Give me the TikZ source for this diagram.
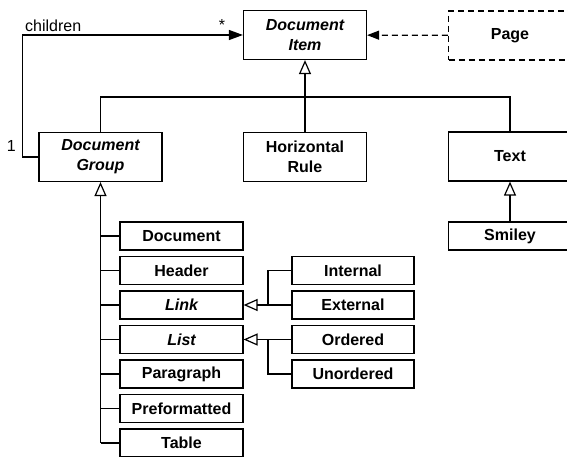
\documentclass[tikz,border=0pt]{standalone}
\usepackage{fontspec}
\setmainfont{Liberation Sans}
\usepackage{tikz}
\usetikzlibrary{arrows.meta}

\tikzset{
	cls/.style = {draw, line width = 1.2pt, minimum width = 123pt, minimum height = 49pt, inner sep = 0pt, align = center, font = \fontsize{16}{20}\selectfont\bfseries},
	leaf/.style = {cls, minimum height = 28pt},
	gen/.style = {line width = 1.2pt, -{Triangle[open, length = 14pt, width = 12pt]}},
	assoc/.style = {line width = 1.2pt, -{Triangle[length = 14pt, width = 10pt]}},
	dep/.style = {line width = 1.2pt, dashed, dash pattern = on 6pt off 4pt, -{Triangle[length = 12pt, width = 9pt]}}
}

\begin{document}
\begin{tikzpicture}[x = 1pt, y = -1pt]
		\useasboundingbox (0,0) rectangle (567,457);
		\clip (0,0) rectangle (567,457);
		\node[cls] (item) at (305,35) {\itshape Document\\\itshape Item};
		\node[cls, dashed, dash pattern = on 6pt off 4pt] (page) at (510,35.5) {Page};
		\node[cls] (group) at (100.5,157) {\itshape Document\\\itshape Group};
		\node[cls] (rule) at (305,157) {Horizontal\\Rule};
		\node[cls] (text) at (510,156.5) {Text};
		\node[leaf] (smiley) at (510,236) {Smiley};
		\foreach \n/\t/\y in {doc/Document/236, header/Header/270.5, link/\itshape Link/305, list/\itshape List/339.5, para/Paragraph/374, pre/Preformatted/408.5, table/Table/443}
			\node[leaf] (\n) at (181.5,\y) {\t};
		\foreach \n/\t/\y in {internal/Internal/270.5, external/External/305, ordered/Ordered/339.5, unordered/Unordered/374}
			\node[leaf, minimum width = 122pt] (\n) at (353,\y) {\t};
		\coordinate (bus) at (305,97);
		\coordinate (lj) at (268,305);
		\coordinate (oj) at (268,339.5);
		\draw[gen] (rule.north) -- (item.south);
		\draw[line width = 1.2pt] (group.north) |- (bus) -| (text.north);
		\draw[assoc] (group.west) -- ++(-16,0) |- (item.west);
		\draw (23,34) node[anchor = south west, inner sep = 2pt, font = \fontsize{16}{20}\selectfont] {children};
		\draw (222,33) node[anchor = south, inner sep = 2pt, font = \fontsize{16}{20}\selectfont] {*};
		\draw (18,146) node[anchor = east, inner sep = 2pt, font = \fontsize{16}{20}\selectfont] {1};
		\draw[dep] (page) -- (item);
		\draw[gen] (smiley) -- (text);
		\draw[gen] (group.south |- table.west) -- (group.south);
		\foreach \n in {doc,header,link,list,para,pre,table}
			\draw[line width = 1.2pt] (\n.west) -- (\n.west -| group.south);
		\draw[gen] (external.west) -- (link.east);
		\draw[line width = 1.2pt] (internal.west) -| (lj);
		\draw[gen] (ordered.west) -- (list.east);
		\draw[line width = 1.2pt] (unordered.west) -| (oj);
	\end{tikzpicture}
\end{document}
